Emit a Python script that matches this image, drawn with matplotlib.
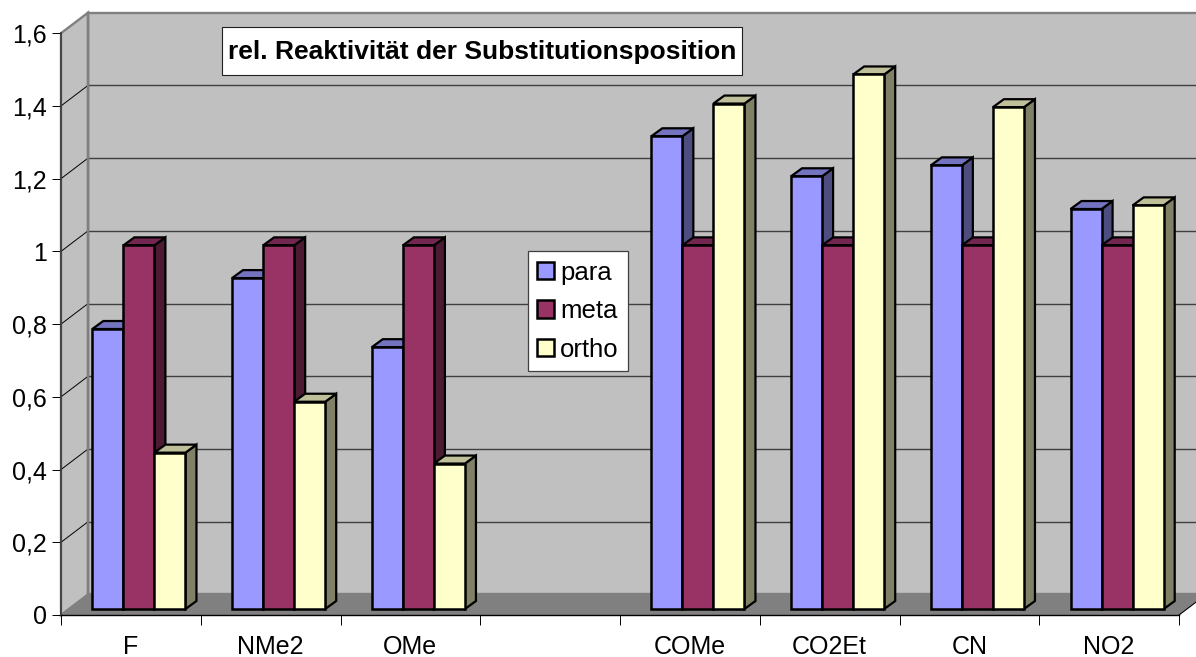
import numpy as np
import matplotlib
matplotlib.use("Agg")
import matplotlib.pyplot as plt
from matplotlib.patches import Patch, Polygon, Rectangle

categories = ["F", "NMe2", "OMe", "", "COMe", "CO2Et", "CN", "NO2"]
para = [0.77, 0.91, 0.72, np.nan, 1.30, 1.19, 1.22, 1.10]
meta = [1.0, 1.0, 1.0, np.nan, 1.0, 1.0, 1.0, 1.0]
ortho = [0.43, 0.57, 0.40, np.nan, 1.39, 1.47, 1.38, 1.11]
y_ticks = [0, 0.2, 0.4, 0.6, 0.8, 1.0, 1.2, 1.4, 1.6]
y_labels = ["0", "0,2", "0,4", "0,6", "0,8", "1", "1,2", "1,4", "1,6"]
title = "rel. Reaktivität der Substitutionsposition"

W, H = 1196, 657
PX_X = 139.75  # pixels per category
PX_Y = 363.6  # pixels per unit
FS = 18

# (front, top, side)
series = [
    ("para", para, "#9999FF", "#7373BF", "#4D4D80"),
    ("meta", meta, "#993366", "#732650", "#4D1A33"),
    ("ortho", ortho, "#FFFFCC", "#BFBF99", "#808066"),
]

plt.rcParams["font.family"] = ["Liberation Sans", "DejaVu Sans"]
plt.rcParams["font.size"] = FS

fig = plt.figure(figsize=(W / 100, H / 100), dpi=100, facecolor="white")
ax = fig.add_axes([61 / W, (H - 615) / H, 1118 / W, 581.8 / H])
ax.set_xlim(0, 8)
ax.set_ylim(0, 1.6)
ax.patch.set_visible(False)
for s in ax.spines.values():
    s.set_visible(False)

wall_dx, wall_dy = 27 / PX_X, 20.5 / PX_Y
start_dx, start_dy = 8 / PX_X, 6 / PX_Y
bar_dx, bar_dy = 11 / PX_X, 8 / PX_Y
bar_w = 1 / 4.5

# back wall, side wall, floor
ax.add_patch(Polygon(
    [(wall_dx, wall_dy), (wall_dx, 1.6 + wall_dy), (8.2, 1.6 + wall_dy), (8.2, wall_dy)],
    fc="#C0C0C0", ec="#808080", lw=1.7, clip_on=False, zorder=1))
ax.add_patch(Polygon(
    [(0, 0), (0, 1.6), (wall_dx, 1.6 + wall_dy), (wall_dx, wall_dy)],
    fc="#C0C0C0", ec="#808080", lw=1.7, clip_on=False, zorder=1))
ax.add_patch(Polygon(
    [(0, 0), (8, 0), (8 + wall_dx, wall_dy), (wall_dx, wall_dy)],
    fc="#808080", ec="#808080", lw=0.8, clip_on=False, zorder=1))

# grid lines on the walls
for v in y_ticks[1:-1]:
    ax.plot([wall_dx, 8.2], [v + wall_dy] * 2, color="#404040", lw=1.0,
            clip_on=False, zorder=2)
    ax.plot([0, wall_dx], [v, v + wall_dy], color="black", lw=0.7,
            clip_on=False, zorder=2)
ax.plot([wall_dx, wall_dx], [wall_dy, 1.6 + wall_dy], color="#808080", lw=1.7,
        clip_on=False, zorder=2)
ax.plot([8, 8 + wall_dx], [0, wall_dy], color="black", lw=0.7, clip_on=False, zorder=2)

# bars, painted left to right so each covers the side of the one before
z = 3
for i in range(len(categories)):
    for j, (name, vals, front, top, side) in enumerate(series):
        v = vals[i]
        if np.isnan(v):
            continue
        x0 = i + 0.75 * bar_w + j * bar_w + start_dx
        x1 = x0 + bar_w
        y0 = start_dy
        y1 = v + start_dy
        ax.add_patch(Polygon(
            [(x1, y0), (x1 + bar_dx, y0 + bar_dy), (x1 + bar_dx, y1 + bar_dy), (x1, y1)],
            fc=side, ec="black", lw=1.6, joinstyle="miter", clip_on=False, zorder=z))
        ax.add_patch(Polygon(
            [(x0, y1), (x0 + bar_dx, y1 + bar_dy), (x1 + bar_dx, y1 + bar_dy), (x1, y1)],
            fc=top, ec="black", lw=1.6, joinstyle="miter", clip_on=False, zorder=z))
        ax.bar(x0, v, width=bar_w, bottom=y0, align="edge", color=front,
               edgecolor="black", linewidth=1.8, clip_on=False, zorder=z + 0.5)
        z += 1

# axes lines and ticks
ax.plot([0, 0], [0, 1.6], color="#404040", lw=1.3, clip_on=False, zorder=2)
ax.plot([0, 8], [0, 0], color="black", lw=1.0, clip_on=False, zorder=2)
ax.set_yticks(y_ticks)
ax.set_yticklabels(y_labels)
ax.tick_params(axis="y", length=6.5, width=0.7, pad=3.6, color="black", labelsize=FS)
ax.set_xticks(range(9))
ax.set_xticklabels([])
ax.set_xticks(np.arange(8) + 0.5, labels=categories, minor=True)
ax.tick_params(axis="x", which="major", length=7, width=0.7)
ax.tick_params(axis="x", which="minor", length=0, pad=14.5, labelsize=FS)

# title box
fig.add_artist(Rectangle((222 / W, (H - 75) / H), 520 / W, 48 / H, fc="white",
                         ec="#202020", lw=0.8, transform=fig.transFigure, zorder=10))
fig.text(482 / W, (H - 52) / H, title, ha="center", va="center", fontweight="bold",
         fontsize=19, zorder=11)

# legend
handles = [Patch(fc=s[2], ec="black", lw=1.8, label=s[0]) for s in series]
leg = fig.legend(handles=handles, loc="upper left",
                 bbox_to_anchor=(528 / W, (H - 251.5) / H), borderaxespad=0,
                 fontsize=18.5, fancybox=False, framealpha=1, edgecolor="#404040",
                 handlelength=0.66, handleheight=0.66, handletextpad=0.22,
                 labelspacing=0.56, borderpad=0.36)
leg.get_frame().set_linewidth(0.9)
leg.set_zorder(10)

fig.savefig("out.png", dpi=100)
